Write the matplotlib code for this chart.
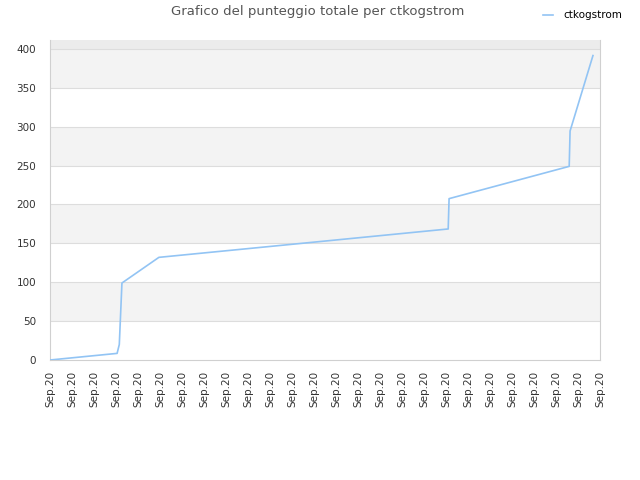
import matplotlib
matplotlib.use("Agg")
import matplotlib.pyplot as plt

# Data (x in tick units, one tick per label)
x_pos = [0.0, 3.05, 3.15, 3.27, 4.95, 18.1, 18.14, 23.6, 23.64, 24.68]
punteggio = [0, 8.5, 20, 99, 132, 168.5, 207.5, 249, 294.5, 391.5]
tick_labels = ["Sep.20"] * 26
y_ticks = [0, 50, 100, 150, 200, 250, 300, 350, 400]

fig = plt.figure(figsize=(6.4, 4.8), dpi=100)
ax = fig.add_axes([50 / 640, 120 / 480, 550 / 640, 320 / 480])

ymax = 411.5
# alternating background bands
for lo in range(50, 400, 100):
    ax.axhspan(lo, lo + 50, color="#f3f3f3", zorder=0, lw=0)
ax.axhspan(400, ymax, color="#ececec", zorder=0, lw=0)
for yv in y_ticks[1:]:
    ax.axhline(yv, color="#dddddd", lw=0.8, zorder=1)

ax.plot(x_pos, punteggio, color="#92c4f4", lw=1.2, label="ctkogstrom", zorder=3)

ax.set_xlim(0, 25)
ax.set_ylim(0, ymax)
ax.set_xticks(range(len(tick_labels)))
ax.set_xticklabels(tick_labels, rotation=90)
ax.set_yticks(y_ticks)
ax.tick_params(length=0, labelsize=7.5, colors="#333333")
ax.tick_params(axis="y", pad=10)
ax.tick_params(axis="x", pad=8)

for side in ["left", "bottom", "right"]:
    ax.spines[side].set_color("#d0d0d0")
ax.spines["top"].set_visible(False)

fig.text(0.497, 0.975, "Grafico del punteggio totale per ctkogstrom",
         ha="center", va="center", fontsize=9.5, color="#555555")
fig.legend(loc="upper right", bbox_to_anchor=(0.987, 0.998), frameon=False,
           fontsize=7.5, handlelength=1.0, handletextpad=1.0)

fig.savefig("out.png", dpi=100)
